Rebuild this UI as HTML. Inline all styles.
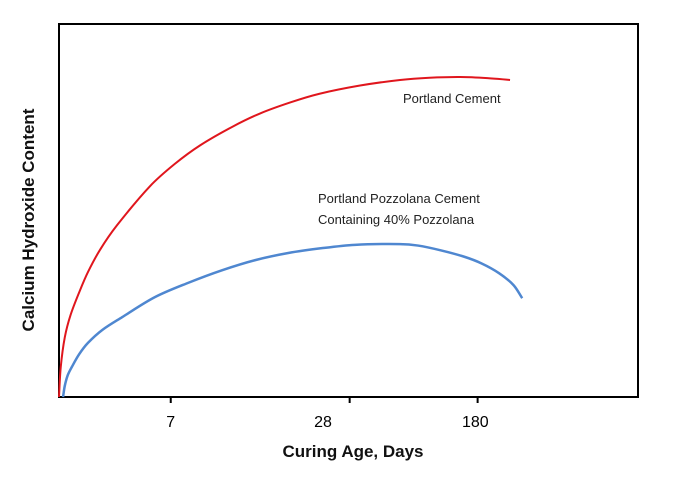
<!DOCTYPE html>
<html><head><meta charset="utf-8"><style>
body{margin:0;background:#fff;}
svg{display:block;font-family:"Liberation Sans",Calibri,sans-serif;}
</style></head><body>
<svg width="679" height="477">
<rect x="59" y="24" width="579" height="373" fill="#fff" stroke="#000" stroke-width="2"/>
<g id="ticks"></g>
<path id="red" fill="none" stroke="#e0161d" stroke-width="2"/>
<path id="blue" fill="none" stroke="#4f87d0" stroke-width="2.5"/>
<text x="403" y="103" font-size="13" fill="#222">Portland Cement</text>
<text x="318" y="203" font-size="13" fill="#222">Portland Pozzolana Cement</text>
<text x="318" y="224" font-size="13" fill="#222">Containing 40% Pozzolana</text>
<text x="353" y="457" font-size="17" font-weight="bold" text-anchor="middle" fill="#111">Curing Age, Days</text>
<text transform="translate(34,220) rotate(-90)" font-size="17" font-weight="bold" text-anchor="middle" fill="#111">Calcium Hydroxide Content</text>
</svg>
<script>
const tickLabels=["7","28","180"];
const tickPos=[19.3,50.2,72.3];
const tickLabelPos=[19.3,45.6,71.9];
const redX=[0,0.3,1,2,3.6,5,7.1,10,15.7,20,24.4,30,34.7,40,45,52,58.9,64,69.3,74,77.9];
const redY=[0,8,16,22,28.5,33.5,39.5,46,56.5,62.5,67.5,72.5,76,79,81.3,83.5,85,85.6,85.8,85.5,85];
const blueX=[0.7,1,1.5,2.2,3.5,5,7.5,10.9,16.6,22.3,28.2,33.9,39.6,45.4,51.1,58.9,62,66,70,73,76,78.5,80];
const blueY=[0,3,5.8,8,11.5,14.5,18,21.4,26.8,30.6,34,36.7,38.6,39.9,40.8,41,40.6,39.3,37.6,35.8,33.2,30,26.5];
const X=v=>59+v*5.79, Y=v=>397-v*3.73;
function curve(xs,ys){
  const p=xs.map((x,i)=>[X(x),Y(ys[i])]);
  let d=`M${p[0][0]},${p[0][1]}`;
  for(let i=0;i<p.length-1;i++){
    const p0=p[i-1]||p[i],p1=p[i],p2=p[i+1],p3=p[i+2]||p2;
    const d01=Math.hypot(p1[0]-p0[0],p1[1]-p0[1])||1;
    const d12=Math.hypot(p2[0]-p1[0],p2[1]-p1[1])||1;
    const d23=Math.hypot(p3[0]-p2[0],p3[1]-p2[1])||1;
    const s1=d12/(d01+d12), s2=d12/(d12+d23);
    const c1=[p1[0]+(p2[0]-p0[0])*s1/3,p1[1]+(p2[1]-p0[1])*s1/3];
    const c2=[p2[0]-(p3[0]-p1[0])*s2/3,p2[1]-(p3[1]-p1[1])*s2/3];
    d+=` C${c1[0]},${c1[1]} ${c2[0]},${c2[1]} ${p2[0]},${p2[1]}`;
  }
  return d;
}
document.getElementById('red').setAttribute('d',curve(redX,redY));
document.getElementById('blue').setAttribute('d',curve(blueX,blueY));
const g=document.getElementById('ticks'),ns='http://www.w3.org/2000/svg';
tickLabels.forEach((t,i)=>{
  const l=document.createElementNS(ns,'line');
  l.setAttribute('x1',X(tickPos[i]));l.setAttribute('x2',X(tickPos[i]));
  l.setAttribute('y1',397);l.setAttribute('y2',403);
  l.setAttribute('stroke','#000');l.setAttribute('stroke-width','2');
  
  
  g.appendChild(l);
  const tx=document.createElementNS(ns,'text');
  tx.setAttribute('x',X(tickLabelPos[i]));tx.setAttribute('y',427);
  tx.setAttribute('text-anchor','middle');tx.setAttribute('font-size','16');
  tx.textContent=t;
  
  
  g.appendChild(tx);
});
</script>
</body></html>
